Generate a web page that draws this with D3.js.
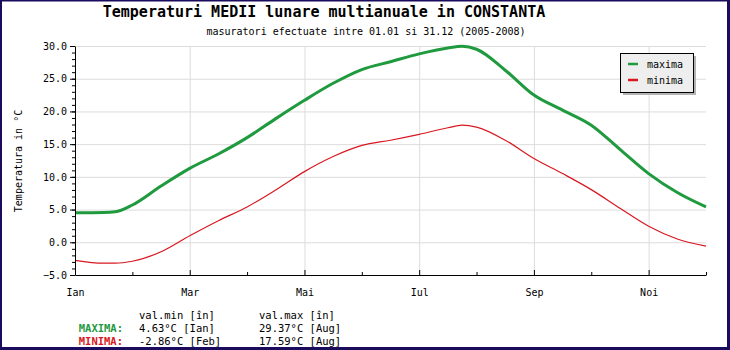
<!DOCTYPE html>
<html>
<head>
<meta charset="utf-8">
<script src="https://cdn.jsdelivr.net/npm/d3@7"></script>
<style>
  body { margin: 0; background: #fff; }
  svg { display: block; font-family: "DejaVu Sans Mono", "Liberation Mono", monospace; }
</style>
</head>
<body>
<div id="chart"></div>
<script>
// month names (romanian) - x axis is month index 0..11
const luni = ["Ian", "Feb", "Mar", "Apr", "Mai", "Iun", "Iul", "Aug", "Sep", "Oct", "Noi", "Dec"];

// positions along the year (month index) where the curves were read
const pozitii = [0, 0.5, 0.7, 1, 1.5, 2, 2.5, 3, 3.5, 4, 4.5, 5, 5.5, 6, 6.5, 6.75, 7, 7.5, 8, 8.5, 9, 9.5, 10, 10.5, 11];
const maxima = [4.5, 4.55, 4.65, 5.7, 8.6, 11.3, 13.5, 16.0, 18.9, 21.7, 24.3, 26.4, 27.6, 28.8, 29.7, 29.95, 29.5, 26.3, 22.5, 20.2, 17.9, 14.2, 10.5, 7.6, 5.4];
const minima = [-2.76, -3.2, -3.2, -2.9, -1.45, 1.0, 3.3, 5.4, 8.0, 10.8, 13.1, 14.8, 15.6, 16.5, 17.5, 17.9, 17.6, 15.6, 12.8, 10.5, 8.05, 5.2, 2.45, 0.5, -0.6];

const yTicks = [-5, 0, 5, 10, 15, 20, 25, 30];

// bottom summary table
const statRows = [
    { name: "MAXIMA:", min: "4.63°C [Ian]", max: "29.37°C [Aug]", color: "#1f9a3e" },
    { name: "MINIMA:", min: "-2.86°C [Feb]", max: "17.59°C [Aug]", color: "#d81820" }
];

const w = 730, h = 350;
// plot area
const pL = 75, pR = 706, pT = 46, pB = 275;
const cMax = "#1f9a3e", cMin = "#d81820";

let svg = d3.select("#chart")
    .append("svg")
    .attr("width", w)
    .attr("height", h);

svg.append("rect").attr("width", w).attr("height", h).attr("fill", "#fff");

let xScale = d3.scaleLinear().domain([0, 11]).range([pL, pR]);
let yScale = d3.scaleLinear().domain([-5, 30]).range([pB, pT]);

// grid lines
svg.append("g")
    .attr("class", "grid")
    .attr("transform", "translate(" + pL + ",0)")
    .call(d3.axisLeft(yScale).tickValues(yTicks).tickSize(-(pR - pL)).tickFormat(""))
    .call(g => g.select(".domain").remove())
    .call(g => g.selectAll("line").attr("stroke", "#dcdcdc"));

svg.append("g")
    .attr("class", "grid")
    .attr("transform", "translate(0," + pB + ")")
    .call(d3.axisBottom(xScale).tickValues([2, 4, 6, 8, 10]).tickSize(-(pB - pT)).tickFormat(""))
    .call(g => g.select(".domain").remove())
    .call(g => g.selectAll("line").attr("stroke", "#dcdcdc"));

// lines
let line = (vals) => d3.line()
    .x((d, i) => xScale(pozitii[i]))
    .y((d) => yScale(d))
    .curve(d3.curveMonotoneX)(vals);

svg.append("path")
    .attr("d", line(minima))
    .attr("fill", "none")
    .attr("stroke", cMin)
    .attr("stroke-width", 1.2);

svg.append("path")
    .attr("d", line(maxima))
    .attr("fill", "none")
    .attr("stroke", cMax)
    .attr("stroke-width", 3);

// y axis: minor ticks, then major with labels
svg.append("g")
    .attr("transform", "translate(" + pL + ",0)")
    .call(d3.axisLeft(yScale).tickValues(d3.range(-5, 31, 1)).tickSize(3).tickFormat(""))
    .call(g => g.select(".domain").remove());

svg.append("g")
    .attr("class", "axis")
    .attr("transform", "translate(" + pL + ",0)")
    .call(d3.axisLeft(yScale).tickValues(yTicks).tickSize(5).tickSizeOuter(0).tickPadding(3).tickFormat(d3.format(".1f")))
    .call(g => g.selectAll("text").attr("font-size", 10).attr("font-family", "DejaVu Sans Mono").attr("fill", "#000"));

// x axis: ticks pointing up into the plot
svg.append("g")
    .attr("class", "axis")
    .attr("transform", "translate(0," + pB + ")")
    .call(d3.axisBottom(xScale).tickValues(d3.range(0, 12)).tickSize(-3).tickSizeOuter(0).tickPadding(14)
        .tickFormat((d) => d % 2 == 0 ? luni[d] : ""))
    .call(g => g.selectAll(".tick line").filter((d) => d % 2 == 0).attr("y2", -5))
    .call(g => g.selectAll("text").attr("font-size", 10).attr("font-family", "DejaVu Sans Mono").attr("fill", "#000"));

// titles
svg.append("text")
    .attr("x", 324).attr("y", 17)
    .attr("text-anchor", "middle")
    .attr("font-size", 15)
    .attr("font-weight", "bold")
    .text("Temperaturi MEDII lunare multianuale in CONSTANTA");

svg.append("text")
    .attr("x", 366).attr("y", 35)
    .attr("text-anchor", "middle")
    .attr("font-size", 10)
    .text("masuratori efectuate intre 01.01 si 31.12 (2005-2008)");

svg.append("text")
    .attr("transform", "translate(22,161) rotate(-90)")
    .attr("text-anchor", "middle")
    .attr("font-size", 10)
    .text("Temperatura in °C");

// legend
let lg = svg.append("g").attr("transform", "translate(620,53)");
lg.append("rect").attr("x", 3).attr("y", 3).attr("width", 73).attr("height", 39).attr("fill", "#b4b4b4");
lg.append("rect").attr("x", 0.5).attr("y", 0.5).attr("width", 73).attr("height", 39)
    .attr("fill", "#eeeeee").attr("stroke", "#000");
[["maxima", cMax], ["minima", cMin]].forEach((d, i) => {
    lg.append("line").attr("x1", 8).attr("x2", 18).attr("y1", 11 + i * 16).attr("y2", 11 + i * 16)
        .attr("stroke", d[1]).attr("stroke-width", 2.5);
    lg.append("text").attr("x", 27).attr("y", 14.5 + i * 16).attr("font-size", 10).text(d[0]);
});

// summary below the chart
let st = svg.append("g").attr("font-size", 10.5);
st.append("text").attr("x", 139).attr("y", 319).text("val.min [în]");
st.append("text").attr("x", 259).attr("y", 319).text("val.max [în]");
statRows.forEach((r, i) => {
    let y = 332 + i * 13;
    st.append("text").attr("x", 123).attr("y", y).attr("text-anchor", "end")
        .attr("font-weight", "bold").attr("fill", r.color).text(r.name);
    st.append("text").attr("x", 139).attr("y", y).text(r.min);
    st.append("text").attr("x", 259).attr("y", y).text(r.max);
});

// dark frame around the image
svg.append("rect").attr("x", 1).attr("y", 0.5).attr("width", w - 2.5).attr("height", h - 2)
    .attr("fill", "none").attr("stroke", "#1a0b5c").attr("stroke-width", 2);
svg.append("rect").attr("x", w - 3).attr("y", 0).attr("width", 3).attr("height", h).attr("fill", "#1a0b5c");
svg.append("rect").attr("x", 0).attr("y", h - 3).attr("width", w).attr("height", 3).attr("fill", "#1a0b5c");
</script>
</body>
</html>
